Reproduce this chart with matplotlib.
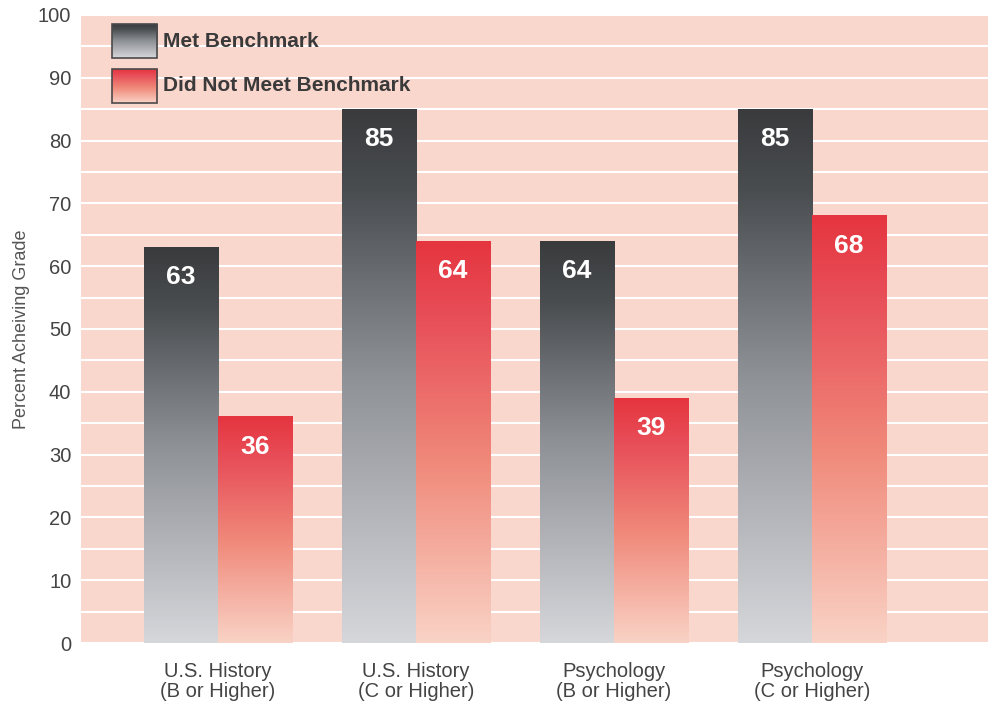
import matplotlib
matplotlib.use("Agg")
import matplotlib.pyplot as plt
import numpy as np
from matplotlib.colors import LinearSegmentedColormap

categories = ["U.S. History\n(B or Higher)", "U.S. History\n(C or Higher)",
              "Psychology\n(B or Higher)", "Psychology\n(C or Higher)"]
met = [63, 85, 64, 85]
not_met = [36, 64, 39, 68]
series_names = ["Met Benchmark", "Did Not Meet Benchmark"]
y_ticks = [0, 10, 20, 30, 40, 50, 60, 70, 80, 90, 100]

plt.rcParams['font.family'] = ['Liberation Sans', 'DejaVu Sans']

gray_cmap = LinearSegmentedColormap.from_list(
    "g", [(0.0, "#d6d7db"), (0.5, "#8e9196"), (0.85, "#4a4d50"), (1.0, "#393b3d")])
red_cmap = LinearSegmentedColormap.from_list(
    "r", [(0.0, "#f9d3c6"), (0.45, "#f0897a"), (0.8, "#e8505a"), (1.0, "#e5353f")])

fig = plt.figure(figsize=(9.88, 7.06), dpi=100)
ax = fig.add_axes([0.082, 0.0892, 0.918, 0.8896])
ax.set_facecolor("#f9d7cd")

x = np.arange(len(categories))
w = 0.374
grad = np.linspace(0, 1, 256).reshape(-1, 1)

for i in range(len(categories)):
    for val, cmap, off in ((met[i], gray_cmap, -w / 2), (not_met[i], red_cmap, w / 2)):
        x0 = x[i] + off - w / 2
        ax.imshow(grad, cmap=cmap, origin="lower", aspect="auto",
                  extent=(x0, x0 + w, 0, val), zorder=3, interpolation="bilinear")
        ax.text(x[i] + off, val - 4.8, str(val), ha="center", va="center",
                color="white", fontsize=19, fontweight="bold", zorder=5)

ax.set_xlim(-0.692, 3.889)
ax.set_ylim(0, 100)
ax.set_yticks(y_ticks)
ax.set_yticks(np.arange(5, 100, 10), minor=True)
ax.tick_params(axis="y", which="both", length=0, labelsize=14.5, colors="#444444", pad=7)
ax.set_xticks(x)
ax.set_xticklabels(categories, fontsize=14.5, color="#444444", linespacing=1.05)
ax.tick_params(axis="x", length=0, pad=14)
ax.grid(axis="y", which="both", color="white", linewidth=1.5, zorder=1)
ax.set_axisbelow(True)
for s in ax.spines.values():
    s.set_visible(False)
ax.set_ylabel("Percent Acheiving Grade", fontsize=13, color="#555555", labelpad=6)

# legend with gradient swatches
for j, (name, cmap) in enumerate(zip(series_names, (gray_cmap, red_cmap))):
    y_top = 0.985 - j * 0.0705
    ax.imshow(grad, cmap=cmap, origin="lower", aspect="auto",
              extent=(0.034, 0.084, y_top - 0.054, y_top), transform=ax.transAxes,
              zorder=6, interpolation="bilinear")
    ax.add_patch(plt.Rectangle((0.034, y_top - 0.054), 0.05, 0.054, transform=ax.transAxes,
                               fill=False, edgecolor="#4a4a4a", linewidth=1.2, zorder=7))
    ax.text(0.090, y_top - 0.027, name, transform=ax.transAxes, ha="left", va="center",
            fontsize=15, fontweight="bold", color="#3a3a3a", zorder=7)

fig.savefig("out.png", dpi=100)
